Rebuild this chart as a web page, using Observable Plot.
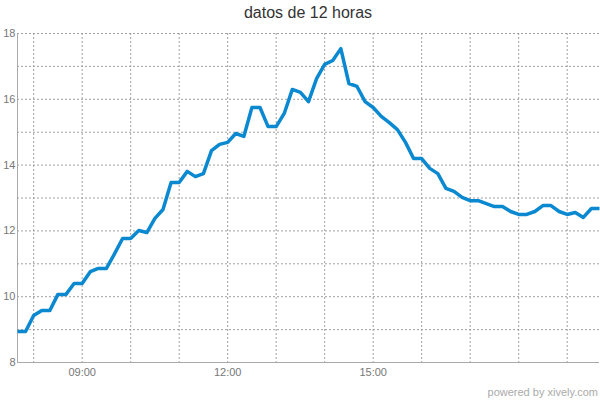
<!DOCTYPE html>
<html>
<head>
<meta charset="utf-8">
<script src="https://cdn.jsdelivr.net/npm/d3@7"></script>
<script src="https://cdn.jsdelivr.net/npm/@observablehq/plot@0.6"></script>
<style>
  html, body { margin: 0; padding: 0; background: #fff; }
  #wrap { width: 600px; height: 400px; font-family: "Liberation Sans", Arial, Helvetica, sans-serif; }
  #title { box-sizing: border-box; height: 28px; padding: 4px 1px 0 17px; text-align: center; font-size: 16px; line-height: 17px; color: #333; }
  #foot { box-sizing: border-box; height: 22px; padding: 8px 2px 0 0; text-align: right; font-size: 11px; line-height: 12px; color: #aaa; }
  svg { display: block; }
</style>
</head>
<body>
<div id="wrap">
  <div id="title">datos de 12 horas</div>
  <div id="chart"></div>
  <div id="foot">powered by xively.com</div>
</div>
<script>
const times = [
  "07:40","07:50","08:00","08:10","08:20","08:30","08:40","08:50",
  "09:00","09:10","09:20","09:30","09:40","09:50",
  "10:00","10:10","10:20","10:30","10:40","10:50",
  "11:00","11:10","11:20","11:30","11:40","11:50",
  "12:00","12:10","12:20","12:30","12:40","12:50",
  "13:00","13:10","13:20","13:30","13:40","13:50",
  "14:00","14:10","14:20","14:30","14:40","14:50",
  "15:00","15:10","15:20","15:30","15:40","15:50",
  "16:00","16:10","16:20","16:30","16:40","16:50",
  "17:00","17:10","17:20","17:30","17:40","17:50",
  "18:00","18:10","18:20","18:30","18:40","18:50",
  "19:00","19:10","19:20","19:30","19:40"
];
const values = [
  8.94, 8.94, 9.43, 9.58, 9.58, 10.07, 10.07, 10.40,
  10.40, 10.76, 10.86, 10.86, 11.30, 11.77,
  11.77, 12.01, 11.95, 12.38, 12.65, 13.47,
  13.47, 13.81, 13.65, 13.74, 14.44, 14.63,
  14.69, 14.96, 14.87, 15.75, 15.75, 15.17,
  15.17, 15.57, 16.30, 16.21, 15.93, 16.63,
  17.06, 17.18, 17.54, 16.48, 16.39, 15.93,
  15.75, 15.48, 15.29, 15.08, 14.69, 14.20,
  14.20, 13.90, 13.74, 13.29, 13.20, 13.02,
  12.92, 12.92, 12.83, 12.74, 12.74, 12.59,
  12.50, 12.50, 12.59, 12.77, 12.77, 12.59,
  12.50, 12.56, 12.41, 12.68, 12.68
];
const xDomain = ["07:40", "19:40"];
const gridHours = ["08:00","09:00","10:00","11:00","12:00","13:00","14:00","15:00","16:00","17:00","18:00","19:00"];
const xTickLabels = ["09:00","12:00","15:00"];
const yGrid = [8, 9, 10, 11, 12, 13, 14, 15, 16, 17, 18];
const yTicks = [8, 10, 12, 14, 16, 18];
const yDomain = [8, 18];

const toDate = t => new Date("2013-01-01T" + t + ":00Z");
const data = times.map((t, i) => ({time: toDate(t), value: values[i]}));

const chart = Plot.plot({
  width: 600,
  height: 350,
  marginLeft: 17,
  marginRight: 1,
  marginTop: 5,
  marginBottom: 16,
  style: {fontFamily: '"Liberation Sans", Arial, Helvetica, sans-serif', fontSize: "11px", color: "#666", background: "#fff"},
  x: {type: "utc", domain: xDomain.map(toDate)},
  y: {domain: yDomain},
  marks: [
    Plot.ruleY(yGrid, {stroke: "#a0a0a0", strokeOpacity: 1, strokeDasharray: "2,2"}),
    Plot.ruleX(gridHours.map(toDate), {stroke: "#a0a0a0", strokeOpacity: 1, strokeDasharray: "2,2"}),
    Plot.ruleX([toDate(xDomain[0])], {stroke: "#aaa"}),
    Plot.ruleY([yDomain[0]], {stroke: "#aaa"}),
    Plot.axisY({ticks: yTicks, tickSize: 0, tickPadding: 2, fill: "#777", label: null}),
    Plot.axisX({ticks: xTickLabels.map(toDate), tickSize: 0, tickPadding: 6, fill: "#777", label: null, tickFormat: d3.utcFormat("%H:%M")}),
    Plot.line(data, {x: "time", y: "value", stroke: "#0a88d0", strokeWidth: 3.5, strokeLinejoin: "round", strokeLinecap: "butt"})
  ]
});
document.getElementById("chart").appendChild(chart);
</script>
</body>
</html>
